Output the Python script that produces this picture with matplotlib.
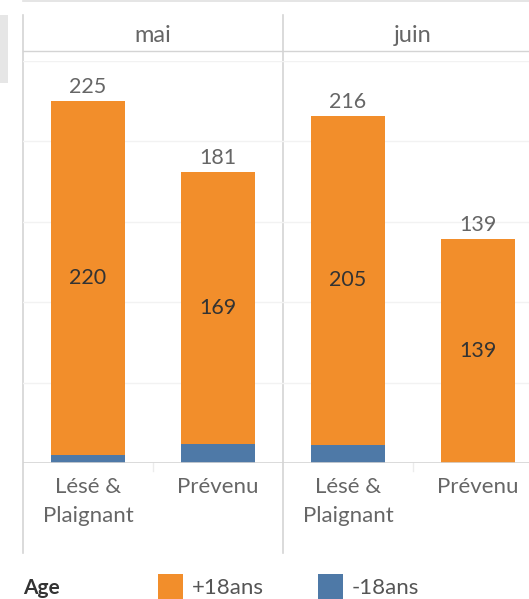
import matplotlib
matplotlib.use("Agg")
import matplotlib.pyplot as plt

# -----------------------------
# Données
# -----------------------------
months = ["mai", "juin"]
categories = ["Lésé &\nPlaignant", "Prévenu"]
plus18 = [[220, 169], [205, 139]]   # +18ans
minus18 = [[5, 12], [11, 0]]        # -18ans
legend_title = "Age"
legend_labels = ["+18ans", "-18ans"]

ORANGE = "#F28E2B"
BLUE = "#4E79A7"
TXT = "#666666"
LINE = "#d4d4d4"

plt.rcParams["font.family"] = ["Lato", "DejaVu Sans"]

W, H = 529, 599


def fx(x):
    return x / W


def fy(y):
    return 1 - y / H


fig = plt.figure(figsize=(W / 100, H / 100), dpi=100)

# calque de décor en coordonnées pixel
deco = fig.add_axes([0, 0, 1, 1], zorder=0)
deco.set_xlim(0, W)
deco.set_ylim(H, 0)
deco.axis("off")

deco.fill_between([0, 8], 15, 83, color="#e6e6e6", lw=0)
deco.plot([23, W], [1, 1], color="#e0e0e0", lw=1.2)
deco.plot([23, W], [51, 51], color=LINE, lw=1)
for xv in [23, 283]:
    deco.plot([xv, xv], [15, 553], color=LINE, lw=1.2)

# -----------------------------
# Panneaux
# -----------------------------
panel_left = [23, 283]
panel_w = 260
top, base = 61, 463

for m, month in enumerate(months):
    left = panel_left[m]
    right = min(left + panel_w, W)
    ax = fig.add_axes([fx(left), fy(base), (right - left) / W, (base - top) / H], zorder=1)
    ax.set_facecolor("none")
    ax.set_xlim(-0.5, -0.5 + 2 * (right - left) / panel_w)
    ax.set_ylim(0, 250)
    for s in ax.spines.values():
        s.set_visible(False)
    ax.set_yticks([])
    for g in [50, 100, 150, 200, 250]:
        ax.axhline(g, color="#f2f2f2", lw=1, zorder=0)
    ax.axhline(0, color=LINE, lw=1.2, zorder=3)

    xs = list(range(len(categories)))
    ax.bar(xs, minus18[m], width=0.57, color=BLUE, zorder=2)
    ax.bar(xs, plus18[m], bottom=minus18[m], width=0.57, color=ORANGE, zorder=2)

    for i in xs:
        total = plus18[m][i] + minus18[m][i]
        ax.annotate(str(total), (i, total), xytext=(0, 3), textcoords="offset points",
                    ha="center", va="bottom", fontsize=15.5, color=TXT)
        ax.text(i, minus18[m][i] + plus18[m][i] / 2, str(plus18[m][i]),
                ha="center", va="center", fontsize=15.5, color="#333333")

    ax.set_xticks(xs)
    ax.set_xticklabels(categories, fontsize=16, color=TXT, linespacing=1.58, va="top")
    ax.tick_params(axis="x", length=0, pad=10)

    # séparateur entre catégories
    deco.plot([left + 130, left + 130], [base, base + 8], color="#ececec", lw=1)
    deco.text(left + 130, 35, month, ha="center", va="center", fontsize=17, color=TXT)

# -----------------------------
# Légende
# -----------------------------
deco.text(23, 588, legend_title, ha="left", va="center", fontsize=15,
          fontweight="bold", color="#333333")
for x0, col, lab in [(158, ORANGE, legend_labels[0]), (318, BLUE, legend_labels[1])]:
    deco.fill_between([x0, x0 + 25], 574, 600, color=col, lw=0)
    deco.text(x0 + 34, 588, lab, ha="left", va="center", fontsize=16, color="#555555")

fig.savefig("out.png", dpi=100)
plt.close(fig)
